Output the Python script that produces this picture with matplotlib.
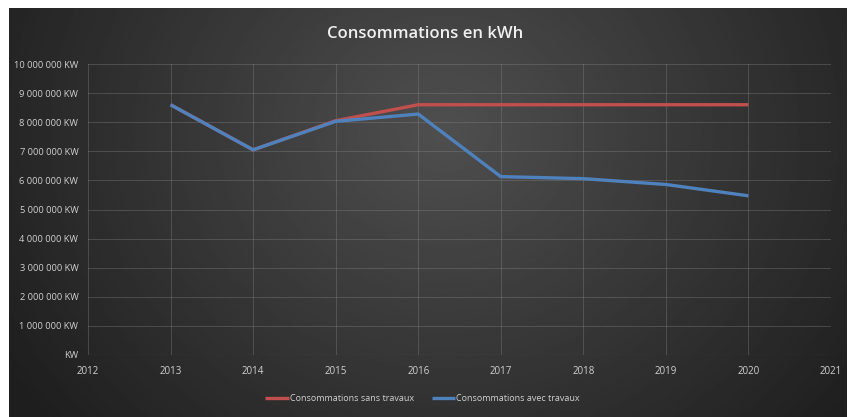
import numpy as np
import matplotlib
matplotlib.use('Agg')
import matplotlib.pyplot as plt
from matplotlib.ticker import FuncFormatter

years = [2013, 2014, 2015, 2016, 2017, 2018, 2019, 2020]
sans_travaux = [8600000, 7050000, 8050000, 8600000, 8600000, 8600000, 8600000, 8600000]
avec_travaux = [8600000, 7050000, 8030000, 8280000, 6130000, 6060000, 5860000, 5470000]

fonts = ['Liberation Sans Narrow', 'Open Sans', 'DejaVu Sans']
txt = '#d0d0d0'

fig = plt.figure(figsize=(8.5, 4.17), dpi=100, facecolor='white')

# dark radial background, like the Excel style
bg = fig.add_axes([9 / 850, 0, (847 - 9) / 850, (417 - 8) / 417])
yy, xx = np.mgrid[0:1:200j, 0:1:400j]
r = np.sqrt(((xx - 0.52) / 0.55) ** 2 + ((yy - 0.3) / 1.0) ** 2)
shade = np.clip(0.31 - 0.17 * r, 0.12, 0.32)
bg.imshow(shade, cmap='gray', vmin=0, vmax=1, aspect='auto', extent=[0, 1, 0, 1], origin='upper')
bg.set_axis_off()

ax = fig.add_axes([88 / 850, 62 / 417, (831 - 88) / 850, (355 - 64) / 417])
ax.patch.set_alpha(0)

ax.plot(years, sans_travaux, color='#c0504d', lw=2.4, solid_capstyle='butt',
        label='Consommations sans travaux', zorder=3)
ax.plot(years, avec_travaux, color='#4f81bd', lw=2.4, solid_capstyle='butt',
        label='Consommations avec travaux', zorder=4)

ax.set_xlim(2012, 2021)
ax.set_ylim(0, 10000000)
ax.set_xticks(range(2012, 2022))
ax.set_yticks(range(0, 10000001, 1000000))


def kw(v, pos):
    v = int(round(v))
    if v == 0:
        return 'KW'
    return f'{v:,}'.replace(',', ' ') + ' KW'


ax.yaxis.set_major_formatter(FuncFormatter(kw))
ax.grid(True, color='#8a8a8a', lw=0.7, alpha=0.35)
for s in ax.spines.values():
    s.set_visible(False)
ax.axhline(0, color='#8a8a8a', lw=0.8, alpha=0.5)
ax.tick_params(length=0, colors=txt, labelsize=7)
ax.tick_params(axis='y', pad=7, labelsize=6.7)
ax.tick_params(axis='x', pad=8)
for lab in ax.get_xticklabels() + ax.get_yticklabels():
    lab.set_family(fonts)

fig.text(0.5, 0.918, 'Consommations en kWh', ha='center', va='center',
         color='#f0f0f0', fontsize=12, family=fonts, fontweight='semibold')

leg = fig.legend(loc='center', bbox_to_anchor=(0.497, 0.045), ncol=2, frameon=False,
                 handlelength=2.6, handletextpad=0.1, columnspacing=2.0,
                 prop={'family': fonts, 'size': 6.5})
for t in leg.get_texts():
    t.set_color(txt)

fig.savefig('out.png', dpi=100, facecolor='white')
